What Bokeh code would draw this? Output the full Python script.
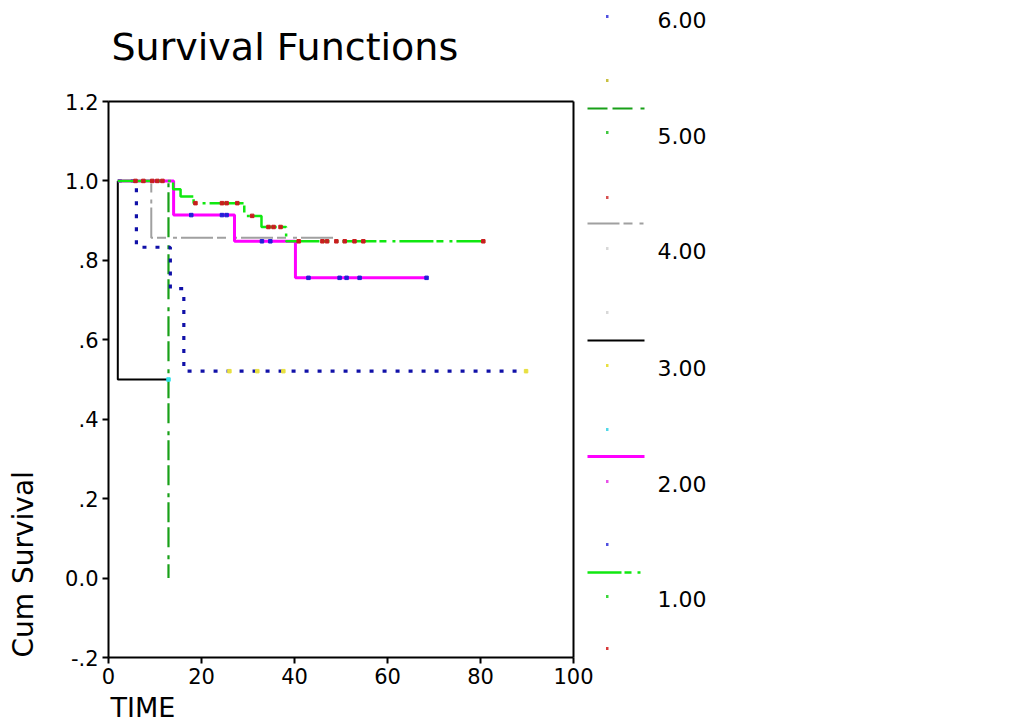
import numpy as np
from bokeh.plotting import figure
from bokeh.models import Range1d, Label, Arrow, FixedTicker, LinearAxis
from bokeh.embed import file_html
from bokeh.resources import INLINE

# ---------------- data ----------------
group_labels = ["1.00", "2.00", "3.00", "4.00", "5.00", "6.00"]

# step curves: surv[i] holds from times[i] to times[i+1]
g1_times = [2.0, 13.9, 15.5, 18.3, 29.2, 32.9, 38.2, 81.0]
g1_surv = [1.0, 0.979, 0.961, 0.944, 0.912, 0.884, 0.848]
g2_times = [2.0, 14.0, 27.1, 40.2, 68.4]
g2_surv = [1.0, 0.914, 0.848, 0.756]
g3_times = [2.0, 2.0, 12.9]
g3_surv = [1.0, 0.5]
g4_times = [2.0, 9.2, 48.5]
g4_surv = [1.0, 0.857]
g5_times = [2.0, 12.9, 12.9]
g5_surv = [1.0, 0.0]
g6_times = [2.0, 6.0, 13.3, 16.2, 90.0]
g6_surv = [1.0, 0.833, 0.729, 0.521]

# censored observations (times)
g1_censor = [5.8, 7.5, 9.4, 10.5, 11.6, 18.7, 24.4, 25.4, 27.7, 30.9, 34.4, 35.5,
             37.0, 40.9, 46.0, 47.0, 49.0, 50.8, 52.9, 54.8, 80.6]
g2_censor = [17.8, 24.4, 25.4, 33.0, 34.8, 43.0, 49.7, 51.2, 54.0, 68.4]
g3_censor = [12.9]
g6_censor = [26.0, 32.0, 37.6, 89.8]

x_ticks = [0, 20, 40, 60, 80, 100]
y_ticks = [-0.2, 0.0, 0.2, 0.4, 0.6, 0.8, 1.0, 1.2]
y_tick_labels = ["-.2", "0.0", ".2", ".4", ".6", ".8", "1.0", "1.2"]

# ---------------- styles ----------------
styles = {
    1: dict(color="#10e810", width=2.5, dash="34 3 7 6 3 4"),
    2: dict(color="#ff00ff", width=3, dash="solid"),
    3: dict(color="#000000", width=2, dash="solid"),
    4: dict(color="#a0a0a0", width=2, dash="32 4 9 7 4 4"),
    5: dict(color="#18a018", width=2.2, dash="20 5 20 8 4 5"),
    6: dict(color="#1010a8", width=3.2, dash="4 9"),
}
curves = {1: (g1_times, g1_surv), 2: (g2_times, g2_surv), 3: (g3_times, g3_surv),
          4: (g4_times, g4_surv), 5: (g5_times, g5_surv), 6: (g6_times, g6_surv)}
censors = {1: (g1_censor, "#c81e1e"), 2: (g2_censor, "#2020d8"),
           3: (g3_censor, "#30e0e8"), 6: (g6_censor, "#e8e040")}

FONT = "DejaVu Sans"

# canvas / frame geometry (pixels)
W, H = 730, 726
X0_PX, X100_PX = 108.0, 573.0      # where t=0 and t=100 sit
YTOP_PX, YBOT_PX = 101.0, 657.0    # where 1.2 and -0.2 sit
XMIN, XMAX = 0.0, 100.0
YMIN, YMAX = -0.2, 1.2
sx = (X100_PX - X0_PX) / (XMAX - XMIN)
sy = (YBOT_PX - YTOP_PX) / (YMAX - YMIN)


def px2x(px):
    return XMIN + (px - X0_PX) / sx


def py2y(py):
    return YMAX - (py - YTOP_PX) / sy


p = figure(frame_width=W, frame_height=H,
           x_range=Range1d(px2x(0), px2x(W)), y_range=Range1d(py2y(H), py2y(0)),
           x_axis_location=None, y_axis_location=None,
           output_backend="svg", toolbar_location=None, min_border=0)
p.grid.visible = False
p.outline_line_color = None
p.background_fill_color = "white"
p.border_fill_color = "white"


def step_xy(times, surv):
    xs, ys = [], []
    for i, s in enumerate(surv):
        xs += [times[i], times[i + 1]]
        ys += [s, s]
    return xs, ys


def surv_at(times, surv, t):
    val = surv[0]
    for i, s in enumerate(surv):
        if t >= times[i]:
            val = s
    return val


for g in [5, 4, 3, 6, 2, 1]:
    t, s = curves[g]
    xs, ys = step_xy(t, s)
    st = styles[g]
    p.line(xs, ys, line_color=st["color"], line_width=st["width"], line_dash=st["dash"])

for g, (ct, col) in censors.items():
    t, s = curves[g]
    cy = [surv_at(t, s, c) for c in ct]
    p.scatter(ct, cy, marker="square", size=3.5, fill_color=col, line_color=col)


# ---------------- axes (drawn at fixed data locations, frame box) ----------------
def style_axis(ax, labels=True, ticks=True):
    ax.axis_line_width = 2
    ax.axis_line_color = "black"
    ax.major_tick_line_width = 2
    ax.major_tick_out = 6 if ticks else 0
    ax.major_tick_in = 0
    ax.minor_tick_out = 0
    ax.minor_tick_in = 0
    ax.major_label_text_font = FONT
    ax.major_label_text_font_size = "21px" if labels else "0px"
    ax.major_label_text_color = "black"
    if not labels:
        ax.major_label_text_alpha = 0
        ax.major_tick_line_color = None


xaxis = LinearAxis(fixed_location=YMIN, bounds=(XMIN, XMAX), ticker=FixedTicker(ticks=x_ticks))
style_axis(xaxis)
xaxis.major_label_standoff = 4
p.add_layout(xaxis, "below")

yaxis = LinearAxis(fixed_location=XMIN, bounds=(YMIN, YMAX), ticker=FixedTicker(ticks=y_ticks))
style_axis(yaxis)
yaxis.major_label_overrides = {v: l for v, l in zip(y_ticks, y_tick_labels)}
yaxis.major_label_standoff = 4
p.add_layout(yaxis, "left")

top_axis = LinearAxis(fixed_location=YMAX, bounds=(XMIN, XMAX), ticker=FixedTicker(ticks=[]))
style_axis(top_axis, labels=False, ticks=False)
p.add_layout(top_axis, "above")

right_axis = LinearAxis(fixed_location=XMAX, bounds=(YMIN, YMAX), ticker=FixedTicker(ticks=[]))
style_axis(right_axis, labels=False, ticks=False)
p.add_layout(right_axis, "right")

# ---------------- texts ----------------
p.add_layout(Label(x=px2x(111), y=py2y(46), text="Survival Functions", text_font=FONT,
                   text_font_size="38px", text_baseline="middle", text_align="left",
                   text_color="black"))
p.add_layout(Label(x=px2x(110), y=py2y(707), text="TIME", text_font=FONT,
                   text_font_size="27px", text_baseline="middle", text_align="left",
                   text_color="black"))
p.add_layout(Label(x=px2x(23), y=py2y(657), text="Cum Survival", text_font=FONT,
                   text_font_size="28px", text_baseline="middle", text_align="left",
                   angle=np.pi / 2, text_color="black"))

# ---------------- legend (outside the box) ----------------
legend_line_py = {1: 572, 2: 456, 3: 340, 4: 223, 5: 108}
legend_dots = [(648, "#d83a3a"), (596, "#3ad83a"), (544, "#5050e0"), (481, "#e850e8"),
               (429, "#50d8e8"), (365, "#e8e040"), (312, "#d8d8d8"), (248, "#d8d8d8"),
               (197, "#d85050"), (132, "#40c840"), (80, "#c8c040"), (16, "#5050e0")]
legend_text_py = [598, 483, 367, 250, 135, 19]

for g, py in legend_line_py.items():
    st = styles[g]
    p.add_layout(Arrow(start=None, end=None, x_start=px2x(587), y_start=py2y(py),
                       x_end=px2x(644), y_end=py2y(py), line_color=st["color"],
                       line_width=st["width"], line_dash=st["dash"]))
for py, col in legend_dots:
    p.add_layout(Arrow(start=None, end=None, x_start=px2x(605.5), y_start=py2y(py),
                       x_end=px2x(608), y_end=py2y(py), line_color=col, line_width=3))
for lab, py in zip(group_labels, legend_text_py):
    p.add_layout(Label(x=px2x(657), y=py2y(py), text=lab, text_font=FONT,
                       text_font_size="22px", text_baseline="middle", text_align="left",
                       text_color="black"))

open("out.html", "w").write(file_html(p, INLINE))
